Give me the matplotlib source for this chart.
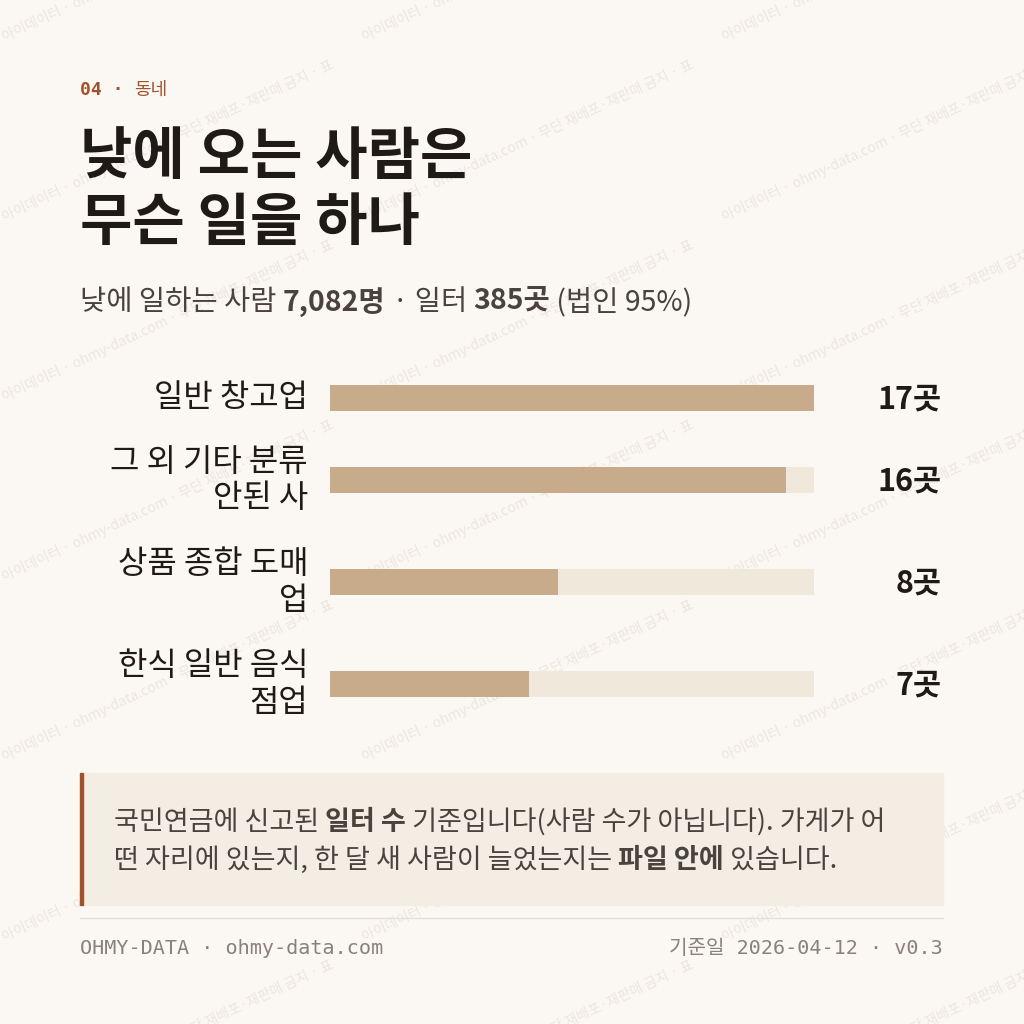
import matplotlib
matplotlib.use("Agg")
import matplotlib.pyplot as plt
from matplotlib.patches import Rectangle

plt.rcParams['font.family'] = ['Noto Sans CJK KR', 'DejaVu Sans']

categories = ["일반 창고업", "그 외 기타 분류\n안된 사", "상품 종합 도매\n업", "한식 일반 음식\n점업"]
values = [17, 16, 8, 7]
unit = "곳"
vmax = 17

BG = "#FBF8F3"
BAR = "#C8AB8A"
TRACK = "#F1E8DC"
RUST = "#A0522D"
INK = "#1F1A17"
GREY = "#8A817A"

fig = plt.figure(figsize=(10.24, 10.24), dpi=100, facecolor=BG)
bg = fig.add_axes([0, 0, 1, 1])
bg.set_xlim(0, 1024)
bg.set_ylim(1024, 0)
bg.axis('off')

# watermark
wm = "아이데이터 · ohmy-data.com · 무단 재배포·재판매 금지 · 표"
for row in range(-3, 9):
    for col in range(-1, 4):
        bg.text(col * 360, row * 180 - 40, wm, rotation=25, fontsize=10,
                color="#E9E1D8", alpha=0.8, ha='left', va='center', zorder=0, clip_on=True)

mono = ['DejaVu Sans Mono', 'Noto Sans CJK KR']
r = fig.canvas.get_renderer()
t = bg.text(80, 90, "04 · ", fontsize=13, color=RUST, family=mono, weight='bold', va='center')
bg.text(80 + t.get_window_extent(renderer=r).width, 90, "동네", fontsize=13, color=RUST, va='center')
bg.text(80, 157, "낮에 오는 사람은", fontsize=41, weight='bold', color=INK, va='center')
bg.text(80, 223, "무슨 일을 하나", fontsize=41, weight='bold', color=INK, va='center')

sub = [("낮에 일하는 사람 ", 'normal'), ("7,082명", 'bold'), (" · 일터 ", 'normal'),
       ("385곳", 'bold'), (" (법인 95%)", 'normal')]
x = 80
for s, w in sub:
    t = bg.text(x, 302, s, fontsize=20.5, weight=w, color="#4A423C", va='center')
    x += t.get_window_extent(renderer=r).width

# bars
ys = [398, 480, 582, 684]
ax = fig.add_axes([330 / 1024, 1 - 720 / 1024, 484 / 1024, 360 / 1024])
ax.set_xlim(0, vmax)
ax.set_ylim(720, 360)
ax.axis('off')
ax.barh(ys, [vmax] * len(values), height=26, color=TRACK)
ax.barh(ys, values, height=26, color=BAR)
for y, c, v in zip(ys, categories, values):
    bg.text(308, y, c, fontsize=23, color=INK, ha='right', va='center',
            multialignment='right', linespacing=1.2)
    bg.text(942, y + 2, f"{v}{unit}", fontsize=22, weight='bold', color=INK, ha='right', va='center')

# note box
bg.add_patch(Rectangle((80, 773), 863, 132, color="#F4EDE4", zorder=1))
bg.add_patch(Rectangle((80, 773), 3, 132, color=RUST, zorder=2))
line1 = [("국민연금에 신고된 ", 'normal'), ("일터 수", 'bold'),
         (" 기준입니다(사람 수가 아닙니다). 가게가 어", 'normal')]
line2 = [("떤 자리에 있는지, 한 달 새 사람이 늘었는지는 ", 'normal'), ("파일 안에", 'bold'),
         (" 있습니다.", 'normal')]
for yy, parts in ((822, line1), (860, line2)):
    x = 114
    for s, w in parts:
        t = bg.text(x, yy, s, fontsize=19.5, weight=w, color="#4A423C", va='center', zorder=3)
        x += t.get_window_extent(renderer=r).width

bg.plot([80, 943], [918, 918], color="#E6DED5", lw=1)
bg.text(80, 948, "OHMY-DATA · ohmy-data.com", fontsize=14.5, family=mono, color=GREY, va='center')
bg.text(943, 948, "기준일 2026-04-12 · v0.3", fontsize=14.5, family=mono, color=GREY, va='center', ha='right')

fig.savefig("out.png", dpi=100, facecolor=BG)
